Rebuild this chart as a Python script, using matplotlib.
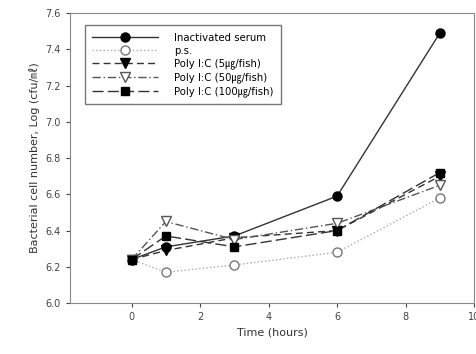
import matplotlib.pyplot as plt

plt.rcParams['font.family'] = ['DejaVu Sans', 'Noto Sans CJK KR']

time_h = [0, 1, 3, 6, 9]
inactivated = [6.24, 6.31, 6.37, 6.59, 7.49]
ps = [6.24, 6.17, 6.21, 6.28, 6.58]
polyic_5 = [6.24, 6.29, 6.36, 6.40, 6.70]
polyic_50 = [6.24, 6.45, 6.35, 6.44, 6.65]
polyic_100 = [6.24, 6.37, 6.31, 6.40, 6.72]

labels = ['Inactivated serum', 'p.s.', 'Poly I:C (5\u338d/fish)',
          'Poly I:C (50\u338d/fish)', 'Poly I:C (100\u338d/fish)']

fig = plt.figure(figsize=(4.76, 3.54), dpi=100)
ax = fig.add_axes([0.147, 0.144, 0.849, 0.819])

ax.plot(time_h, inactivated, '-', color='#333333', lw=1.0, marker='o', ms=6.5,
        mfc='black', mec='black', label=labels[0])
ax.plot(time_h, ps, ':', color='#aaaaaa', lw=1.0, marker='o', ms=6.5,
        mfc='white', mec='#777777', label=labels[1])
ax.plot(time_h, polyic_5, '--', color='#333333', lw=1.0, marker='v', ms=6.5,
        mfc='black', mec='black', dashes=(5, 3), label=labels[2])
ax.plot(time_h, polyic_50, '-.', color='#555555', lw=1.0, marker='v', ms=6.5,
        mfc='white', mec='#555555', dashes=(6, 2, 1, 2), label=labels[3])
ax.plot(time_h, polyic_100, '--', color='#333333', lw=1.0, marker='s', ms=6,
        mfc='black', mec='black', dashes=(8, 3), label=labels[4])

ax.set_xlim(-1.8, 10)
ax.set_ylim(6.0, 7.6)
ax.set_xticks([0, 2, 4, 6, 8, 10])
ax.set_yticks([6.0, 6.2, 6.4, 6.6, 6.8, 7.0, 7.2, 7.4, 7.6])
ax.set_yticklabels(['6.0', '6.2', '6.4', '6.6', '6.8', '7.0', '7.2', '7.4', '7.6'])
ax.tick_params(labelsize=7, colors='#444444', direction='out', length=3)
for s in ax.spines.values():
    s.set_color('#888888')

ax.set_xlabel('Time (hours)', fontsize=8, color='#333333')
ax.set_ylabel('Bacterial cell number, Log (cfu/\u3396)', fontsize=8, color='#333333')

leg = ax.legend(loc='upper left', bbox_to_anchor=(0.025, 0.975), fontsize=7.3,
                fancybox=False, framealpha=1, handlelength=6.5,
                borderpad=0.7, labelspacing=0.3, handletextpad=1.6)
leg.get_frame().set_edgecolor('#777777')

fig.savefig('out.png', dpi=100)
